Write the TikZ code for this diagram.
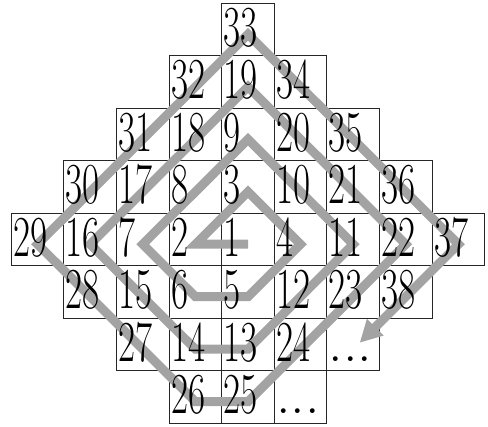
\documentclass[tikz,border=0pt]{standalone}
\usepackage{fontspec}
\usetikzlibrary{arrows.meta}
\newcommand{\numfont}{\rmfamily\fontsize{58}{58}\selectfont\addfontfeatures{FakeBold=3}}
\newcommand{\numtext}[1]{{\numfont\scalebox{0.64}[1]{#1}}}
\newcommand{\dotstext}{{\numfont ...}}
\begin{document}
\begin{tikzpicture}[x=1pt,y=-1pt,
  cell/.style={draw=black!85, line width=0.9pt, minimum width=52.6pt, minimum height=52.5pt, inner sep=0pt, outer sep=0pt},
  num/.style={anchor=base west, inner sep=0pt, outer sep=0pt},
  spiral/.style={draw=black!36, line width=9pt, line join=miter}]
\useasboundingbox (0,0) rectangle (488,427);
% cells: row/col/name
\foreach \r/\c/\n in {
  0/0/33,
  1/-1/32, 1/0/19, 1/1/34,
  2/-2/31, 2/-1/18, 2/0/9, 2/1/20, 2/2/35,
  3/-3/30, 3/-2/17, 3/-1/8, 3/0/3, 3/1/10, 3/2/21, 3/3/36,
  4/-4/29, 4/-3/16, 4/-2/7, 4/-1/2, 4/0/1, 4/1/4, 4/2/11, 4/3/22, 4/4/37,
  5/-3/28, 5/-2/15, 5/-1/6, 5/0/5, 5/1/12, 5/2/23, 5/3/38,
  6/-2/27, 6/-1/14, 6/0/13, 6/1/24, 6/2/39,
  7/-1/26, 7/0/25, 7/1/40}
{
  \node[cell] (c\n) at ({248+52.6*\c},{3+52.5*(\r+0.5)}) {};
}
% spiral path
\coordinate (tip) at ([xshift=6.5pt,yshift=1.5pt]c39.center);
\draw[spiral, -{Triangle[width=22pt,length=22pt]}]
  ([yshift=-5pt]c1.center) -- ([yshift=-5pt]c2.center) -- ([yshift=-5pt]c3.center)
  -- ([yshift=-5pt]c4.center) -- ([yshift=-5pt]c5.center) -- ([yshift=-5pt]c6.center)
  -- ([yshift=-5pt]c7.center) -- ([yshift=-5pt]c9.center) -- ([yshift=-5pt]c11.center)
  -- ([yshift=-5pt]c13.center) -- ([yshift=-5pt]c14.center) -- ([yshift=-5pt]c16.center)
  -- ([yshift=-5pt]c19.center) -- ([yshift=-5pt]c22.center) -- ([yshift=-5pt]c25.center)
  -- ([yshift=-5pt]c26.center) -- ([yshift=-5pt]c29.center) -- ([yshift=-5pt]c33.center)
  -- ([yshift=-5pt]c37.center) -- (tip);
% numbers
\foreach \n in {33,32,19,34,31,18,9,20,35,30,17,8,3,10,21,36,29,16,7,2,1,4,11,22,37,
  28,15,6,5,12,23,38,27,14,13,24,26,25}
{
  \node[num] (t\n) at ([xshift=2pt,yshift=9pt]c\n.south west) {\numtext{\n}};
}
\node[num] (t39) at ([xshift=2pt,yshift=9pt]c39.south west) {\dotstext};
\node[num] (t40) at ([xshift=2pt,yshift=9pt]c40.south west) {\dotstext};
\end{tikzpicture}
\end{document}
